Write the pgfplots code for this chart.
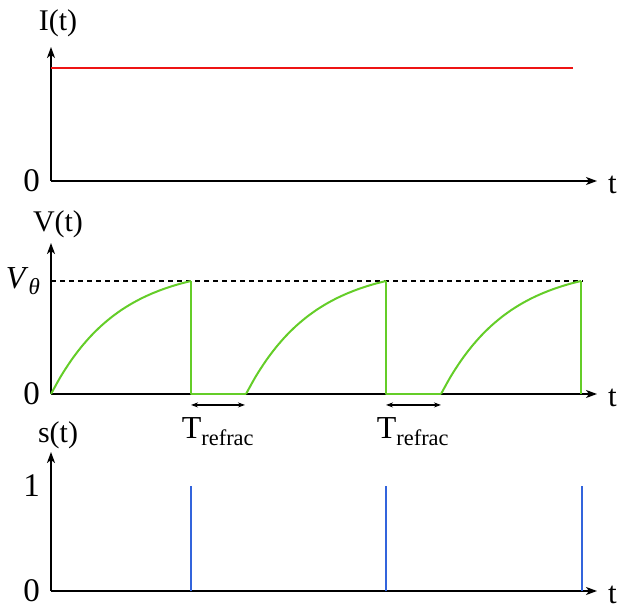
\documentclass[border=0pt]{standalone}
\usepackage{fontspec}
\setmainfont{Liberation Serif}
\usepackage{pgfplots}
\pgfplotsset{compat=1.18}
\usetikzlibrary{arrows.meta}
\definecolor{ired}{RGB}{238,20,20}
\definecolor{vgreen}{RGB}{100,205,40}
\definecolor{sblue}{RGB}{50,100,220}
\pgfplotsset{
  neuro/.style={
    scale only axis, width=546pt, xmin=0, xmax=546, ymin=0,
    axis lines=left,
    axis line style={line width=1.6pt, -{Stealth[length=11pt,width=8pt,inset=3pt]}},
    xtick=\empty, major tick length=0pt,
    clip=false, anchor=south west,
    tick label style={font=\fontsize{33}{36}\selectfont},
    yticklabel style={xshift=-10pt, inner sep=1pt},
    xlabel={t},
    xlabel style={at={(rel axis cs:1,0)}, anchor=west, inner sep=0pt, xshift=11pt, yshift=-4pt, font=\fontsize{31}{34}\selectfont},
    ylabel style={at={(rel axis cs:0,1)}, rotate=-90, anchor=south, xshift=7pt, font=\fontsize{30}{34}\selectfont},
  }
}
\begin{document}
\begin{tikzpicture}[x=1pt,y=1pt]
\path[use as bounding box] (0,0) rectangle (619,606);
% ---- I(t)
\begin{axis}[neuro, at={(51pt,425pt)}, height=134pt, ymax=1.186,
  ytick={0}, yticklabels={0}, ylabel={I(t)}, ylabel style={yshift=7pt}]
\addplot[ired, line width=2pt] coordinates {(0,1) (522,1)};
\end{axis}
% ---- V(t)
\begin{axis}[neuro, at={(51pt,212pt)}, height=151pt, ymax=1.336,
  ytick={0,1}, yticklabels={0,{\fontsize{32}{34}\selectfont\textit{V}\raisebox{-6pt}{\fontsize{23}{25}\selectfont\textit{θ}}}}, ylabel={V(t)}, ylabel style={yshift=2pt}]
\addplot[black, line width=1.4pt, dash pattern=on 5pt off 4pt] coordinates {(0,1) (532,1)};
\addplot[vgreen, line width=2pt, smooth] coordinates {
(0,0) (10,0.1587) (20,0.2953) (30,0.4129) (40,0.5142) (50,0.6013) (60,0.6762) (70,0.7408)
(80,0.7963) (90,0.8441) (100,0.8853) (110,0.9207) (120,0.9512) (130,0.9774) (140,1)};
\addplot[vgreen, line width=2pt, smooth] coordinates {
(195,0) (205,0.1587) (215,0.2953) (225,0.4129) (235,0.5142) (245,0.6013) (255,0.6762) (265,0.7408)
(275,0.7963) (285,0.8441) (295,0.8853) (305,0.9207) (315,0.9512) (325,0.9774) (335,1)};
\addplot[vgreen, line width=2pt, smooth] coordinates {
(390,0) (400,0.1587) (410,0.2953) (420,0.4129) (430,0.5142) (440,0.6013) (450,0.6762) (460,0.7408)
(470,0.7963) (480,0.8441) (490,0.8853) (500,0.9207) (510,0.9512) (520,0.9774) (530,1)};
\addplot[vgreen, line width=2pt, line join=round] coordinates {(140,1) (140,0) (195,0)};
\addplot[vgreen, line width=2pt, line join=round] coordinates {(335,1) (335,0) (390,0)};
\addplot[vgreen, line width=2pt] coordinates {(530,1) (530,0)};
\addplot[black, line width=1.4pt, {Stealth[length=7pt,width=5pt]}-{Stealth[length=7pt,width=5pt]}] coordinates {(140,-0.097) (194,-0.097)};
\addplot[black, line width=1.4pt, {Stealth[length=7pt,width=5pt]}-{Stealth[length=7pt,width=5pt]}] coordinates {(335,-0.097) (390,-0.097)};
\node[font=\fontsize{32}{36}\selectfont] at (axis cs:167,-0.33) {T\textsubscript{refrac}};
\node[font=\fontsize{32}{36}\selectfont] at (axis cs:362,-0.33) {T\textsubscript{refrac}};
\end{axis}
% ---- s(t)
\begin{axis}[neuro, at={(51pt,15pt)}, height=139pt, ymax=1.324,
  ytick={0,1}, yticklabels={0,1}, ylabel={s(t)}, ylabel style={yshift=0pt}]
\addplot[sblue, line width=2.2pt] coordinates {(140,0) (140,1)};
\addplot[sblue, line width=2.2pt] coordinates {(335,0) (335,1)};
\addplot[sblue, line width=2.2pt] coordinates {(531,0) (531,1)};
\end{axis}
\end{tikzpicture}
\end{document}
